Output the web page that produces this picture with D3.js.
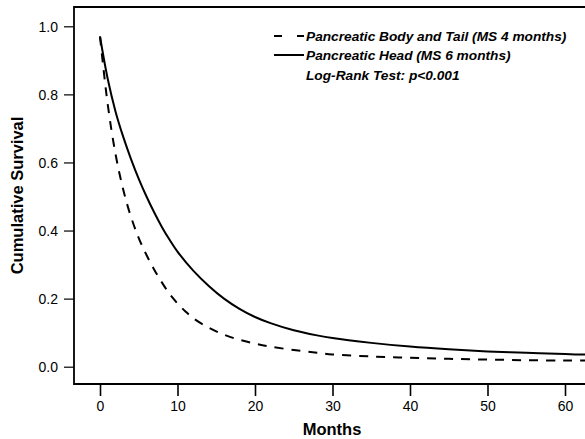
<!DOCTYPE html>
<html>
<head>
<meta charset="utf-8">
<script src="https://cdn.jsdelivr.net/npm/d3@7"></script>
<style>
  html, body { margin: 0; padding: 0; background: #fff; }
  svg { display: block; }
  text { font-family: Arial, "Liberation Sans", sans-serif; fill: #000; }
</style>
</head>
<body>
<svg id="chart" width="585" height="439"></svg>
<script>
// ---- Data ----
const headMonths = [0, 1, 2, 3, 4, 5, 6, 7, 8, 9, 10, 12, 14, 16, 18, 20, 22, 25, 28, 30, 35, 40, 45, 50, 55, 60, 63.5];
const headSurvival = [0.97, 0.845, 0.75, 0.675, 0.61, 0.552, 0.50, 0.453, 0.41, 0.372, 0.338, 0.283, 0.238, 0.2, 0.17, 0.146, 0.128, 0.107, 0.092, 0.084, 0.07, 0.059, 0.051, 0.045, 0.041, 0.037, 0.035];

const bodyMonths = [0, 1, 2, 3, 4, 5, 6, 7, 8, 9, 10, 11, 12, 14, 16, 18, 20, 22, 25, 28, 30, 35, 40, 45, 50, 55, 60, 63.5];
const bodySurvival = [0.97, 0.77, 0.625, 0.52, 0.44, 0.378, 0.328, 0.285, 0.247, 0.213, 0.186, 0.163, 0.143, 0.115, 0.094, 0.079, 0.068, 0.059, 0.049, 0.041, 0.036, 0.03, 0.026, 0.023, 0.021, 0.019, 0.018, 0.018];

const xTicks = [0, 10, 20, 30, 40, 50, 60];
const yTicks = [0.0, 0.2, 0.4, 0.6, 0.8, 1.0];

const legendLabels = ["Pancreatic Body and Tail (MS 4 months)", "Pancreatic Head (MS 6 months)"];
const testLabel = "Log-Rank Test: p<0.001";
const xTitle = "Months";
const yTitle = "Cumulative Survival";

// ---- Layout ----
const svg = d3.select("#chart");
const box = { left: 74, top: 7, right: 600, bottom: 384 };

const x = d3.scaleLinear().domain([0, 60]).range([100, 565]);
const y = d3.scaleLinear().domain([0, 1]).range([366.7, 26.3]);

// Clip to plot box
svg.append("clipPath").attr("id", "clip")
  .append("rect").attr("x", box.left).attr("y", box.top)
  .attr("width", box.right - box.left).attr("height", box.bottom - box.top);

// Box (left, top, bottom)
svg.append("path")
  .attr("d", `M${box.right},${box.top}H${box.left}V${box.bottom}H${box.right}`)
  .attr("fill", "none").attr("stroke", "#000").attr("stroke-width", 1.8);

// X axis
const xAxis = svg.append("g").attr("transform", `translate(0,${box.bottom})`)
  .call(d3.axisBottom(x).tickValues(xTicks).tickSize(12).tickPadding(5).tickFormat(d3.format("d")));
xAxis.select(".domain").remove();
xAxis.selectAll(".tick line").attr("stroke", "#000").attr("stroke-width", 1.6);
xAxis.selectAll(".tick text").attr("font-size", 14).attr("font-family", "Arial, 'Liberation Sans', sans-serif").attr("fill", "#000");

// Y axis
const yAxis = svg.append("g").attr("transform", `translate(${box.left},0)`)
  .call(d3.axisLeft(y).tickValues(yTicks).tickSize(10).tickPadding(6).tickFormat(d3.format(".1f")));
yAxis.select(".domain").remove();
yAxis.selectAll(".tick line").attr("stroke", "#000").attr("stroke-width", 1.2);
yAxis.selectAll(".tick text").attr("font-size", 14).attr("font-family", "Arial, 'Liberation Sans', sans-serif").attr("fill", "#000").attr("dy", "0.36em");

// Axis titles
svg.append("text").attr("x", 332).attr("y", 435)
  .attr("text-anchor", "middle").attr("font-size", 16.5).attr("font-weight", "bold").text(xTitle);
svg.append("text").attr("transform", "translate(23,195.5) rotate(-90)")
  .attr("text-anchor", "middle").attr("font-size", 16.5).attr("font-weight", "bold").text(yTitle);

// Curves
const line = d3.line().x(d => x(d[0])).y(d => y(d[1])).curve(d3.curveCatmullRom.alpha(0.5));
const plot = svg.append("g").attr("clip-path", "url(#clip)");

plot.append("path")
  .datum(bodyMonths.map((m, i) => [m, bodySurvival[i]]))
  .attr("d", line).attr("fill", "none").attr("stroke", "#000")
  .attr("stroke-width", 2).attr("stroke-dasharray", "9,8");

plot.append("path")
  .datum(headMonths.map((m, i) => [m, headSurvival[i]]))
  .attr("d", line).attr("fill", "none").attr("stroke", "#000")
  .attr("stroke-width", 2);

// Legend
const legend = svg.append("g");
const legRows = [36, 55];
legend.append("line").attr("x1", 274).attr("x2", 304).attr("y1", legRows[0]).attr("y2", legRows[0])
  .attr("stroke", "#000").attr("stroke-width", 2).attr("stroke-dasharray", "8,15");
legend.append("line").attr("x1", 274).attr("x2", 304).attr("y1", legRows[1]).attr("y2", legRows[1])
  .attr("stroke", "#000").attr("stroke-width", 2);
legendLabels.forEach((t, i) => {
  legend.append("text").attr("x", 306).attr("y", legRows[i]).attr("dy", "0.36em")
    .attr("font-size", 13.7).attr("font-weight", "bold").attr("font-style", "italic").text(t);
});
legend.append("text").attr("x", 306).attr("y", 75).attr("dy", "0.36em")
  .attr("font-size", 13.7).attr("font-weight", "bold").attr("font-style", "italic").text(testLabel);
</script>
</body>
</html>
